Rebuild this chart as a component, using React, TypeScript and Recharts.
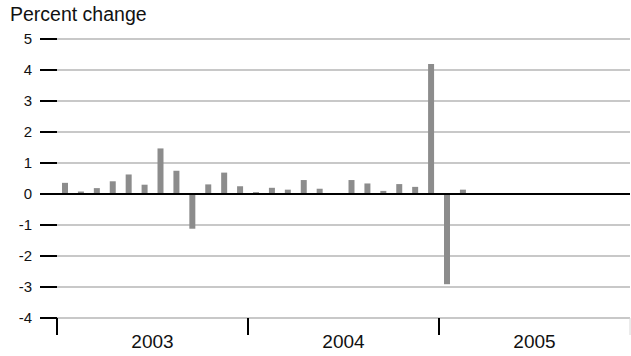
import React from 'react';
import { ComposedChart, Bar, XAxis, YAxis, CartesianGrid, ReferenceLine } from 'recharts';

const months = [
  '2003-01', '2003-02', '2003-03', '2003-04', '2003-05', '2003-06',
  '2003-07', '2003-08', '2003-09', '2003-10', '2003-11', '2003-12',
  '2004-01', '2004-02', '2004-03', '2004-04', '2004-05', '2004-06',
  '2004-07', '2004-08', '2004-09', '2004-10', '2004-11', '2004-12',
  '2005-01', '2005-02',
];
const values = [
  0.36, 0.08, 0.19, 0.41, 0.63, 0.3, 1.47, 0.75, -1.12, 0.31, 0.69, 0.25,
  0.06, 0.2, 0.14, 0.45, 0.17, 0.0, 0.45, 0.34, 0.1, 0.32, 0.23, 4.19,
  -2.91, 0.14,
];
const years = ['2003', '2004', '2005'];
const yTicks = [-4, -3, -2, -1, 0, 1, 2, 3, 4, 5];
const monthsPerYear = 12;

const data = months.map((m, i) => ({ month: m, pos: i + 0.5, value: values[i] }));
const xTicks: number[] = [];
for (let i = 0; i <= years.length * monthsPerYear; i += monthsPerYear / 2) xTicks.push(i);
const lastTick = years.length * monthsPerYear;

const FONT = '"Liberation Sans", Arial, Helvetica, sans-serif';

const YearTick = (props: any) => {
  const { x, y, payload } = props;
  const v = payload.value as number;
  if (v % monthsPerYear === 0) {
    if (v === lastTick) {
      return <line x1={x} x2={x} y1={y} y2={y + 17} stroke="#d8d8d8" strokeWidth={1} />;
    }
    return <line x1={x} x2={x} y1={y} y2={y + 17} stroke="#000" strokeWidth={2} />;
  }
  const label = years[Math.floor(v / monthsPerYear)];
  return (
    <text x={x} y={y + 30} textAnchor="middle" fontSize={19} fontFamily={FONT} fill="#111">
      {label}
    </text>
  );
};

export default function App() {
  return (
    <div style={{ position: 'absolute', left: 0, top: 0, width: 631, height: 356, background: '#fff' }}>
      <div
        style={{
          position: 'absolute',
          left: 10,
          top: 3,
          fontFamily: FONT,
          fontSize: 19.5,
          color: '#111',
          lineHeight: '22px',
          whiteSpace: 'nowrap',
        }}
      >
        Percent change
      </div>
      <ComposedChart
        width={631}
        height={356}
        data={data}
        margin={{ top: 39, right: 1, bottom: 0, left: 0 }}
      >
        <CartesianGrid vertical={false} stroke="#c8c8c8" strokeWidth={2} />
        <XAxis
          dataKey="pos"
          type="number"
          domain={[0, lastTick]}
          ticks={xTicks}
          interval={0}
          axisLine={false}
          tickLine={false}
          tickSize={0}
          tickMargin={0}
          height={38}
          tick={<YearTick />}
        />
        <YAxis
          type="number"
          domain={[-4, 5]}
          ticks={yTicks}
          interval={0}
          width={57}
          axisLine={false}
          tickLine={{ stroke: '#000', strokeWidth: 2 }}
          tickSize={17}
          tickMargin={8}
          tick={{ fontSize: 15, fontFamily: FONT, fill: '#111' }}
        />
        <Bar dataKey="value" fill="#8c8c8c" barSize={6} isAnimationActive={false} />
        <ReferenceLine y={0} stroke="#000" strokeWidth={2} />
      </ComposedChart>
    </div>
  );
}
